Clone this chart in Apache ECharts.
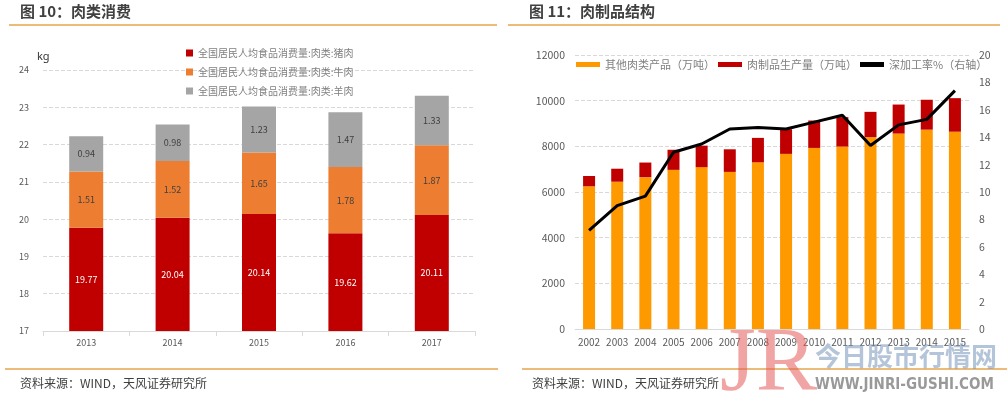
<!DOCTYPE html>
<html><head><meta charset="utf-8">
<script src="https://cdn.jsdelivr.net/npm/echarts@6/dist/echarts.min.js"></script>
<style>html,body{margin:0;padding:0;background:#fff}#c{width:1007px;height:408px}</style>
</head><body><div id="c"></div>
<script>
// Left chart: 肉类消费
const yearsL = ['2013','2014','2015','2016','2017'];
const pork = [19.77, 20.04, 20.14, 19.62, 20.11];
const beef = [1.51, 1.52, 1.65, 1.78, 1.87];
const mutton = [0.94, 0.98, 1.23, 1.47, 1.33];
const namesL = ['全国居民人均食品消费量:肉类:猪肉','全国居民人均食品消费量:肉类:牛肉','全国居民人均食品消费量:肉类:羊肉'];
// Right chart: 肉制品结构
const yearsR = ['2002','2003','2004','2005','2006','2007','2008','2009','2010','2011','2012','2013','2014','2015'];
const otherMeat = [6250, 6450, 6650, 6970, 7090, 6880, 7300, 7670, 7930, 7990, 8400, 8560, 8730, 8640];
const meatProducts = [450, 570, 640, 880, 940, 990, 1070, 1080, 1200, 1290, 1110, 1270, 1310, 1470];
const deepRate = [7.2, 9.0, 9.7, 12.9, 13.5, 14.6, 14.7, 14.6, 15.1, 15.6, 13.4, 14.9, 15.3, 17.4];
const namesR = ['其他肉类产品（万吨）','肉制品生产量（万吨）','深加工率%（右轴）'];

const chart = echarts.init(document.getElementById('c'), null, {renderer:'canvas'});
const gridC = '#d9d9d9', txt = '#595959';
const lblIn = (color) => ({show:true, position:'inside', color:color, fontSize:9, fontFamily:'Noto Sans CJK SC', formatter: p => p.value.toFixed(2)});
chart.setOption({
  animation:false,
  textStyle:{fontFamily:'Noto Sans CJK SC'},
  graphic:[
    {type:'text', left:20, top:4, style:{text:'图 10：肉类消费', fontSize:15, fontWeight:'bold', fill:'#404040', fontFamily:'Noto Sans CJK SC'}},
    {type:'text', left:529, top:4, style:{text:'图 11：肉制品结构', fontSize:15, fontWeight:'bold', fill:'#404040', fontFamily:'Noto Sans CJK SC'}},
    {type:'line', shape:{x1:9,y1:25,x2:497,y2:25}, style:{stroke:'#e6a44a', lineWidth:1.5}},
    {type:'line', shape:{x1:508,y1:25,x2:1000,y2:25}, style:{stroke:'#e6a44a', lineWidth:1.5}},
    {type:'line', shape:{x1:5,y1:369,x2:498,y2:369}, style:{stroke:'#e6a44a', lineWidth:1.5}},
    {type:'line', shape:{x1:522,y1:369,x2:1007,y2:369}, style:{stroke:'#e6a44a', lineWidth:1.5}},
    {type:'text', left:20, top:377, style:{text:'资料来源：WIND，天风证券研究所', fontSize:12, fill:'#404040', fontFamily:'Noto Sans CJK SC'}},
    {type:'text', left:532, top:377, style:{text:'资料来源：WIND，天风证券研究所', fontSize:12, fill:'#404040', fontFamily:'Noto Sans CJK SC'}},
    {type:'text', left:37, top:51, style:{text:'kg', fontSize:11, fill:'#333', fontFamily:'Noto Sans'}},
    {type:'text', left:720, top:320, z:100, style:{text:'JR', fontSize:92, fill:'rgba(230,90,90,0.55)', fontFamily:'Liberation Serif'}},
    {type:'text', left:815, top:343, z:100, style:{text:'今日股市行情网', fontSize:26, fontWeight:'bold', fill:'rgba(120,150,185,0.55)', fontFamily:'Noto Sans CJK SC'}},
    {type:'text', left:815, top:378, z:100, style:{text:'WWW.JINRI-GUSHI.COM', fontSize:15, fontWeight:'bold', fill:'rgba(110,110,110,0.7)', fontFamily:'DejaVu Sans Condensed'}}
  ],
  legend:[
    {data:namesL, orient:'vertical', left:181, top:43, itemWidth:7, itemHeight:7, itemGap:9, icon:'rect',
     textStyle:{fontSize:10, color:'#7f7f7f'}},
    {data:[{name:namesR[0], icon:'rect'},{name:namesR[1], icon:'rect'},{name:namesR[2], icon:'rect', itemStyle:{color:'#000'}}],
     left:571, top:54, itemWidth:24, itemHeight:5, itemGap:3,
     textStyle:{fontSize:11, color:'#7f7f7f'}}
  ],
  grid:[
    {left:43, top:70, width:432, height:261},
    {left:575, top:55, width:394, height:274}
  ],
  xAxis:[
    {type:'category', gridIndex:0, data:yearsL, axisLine:{lineStyle:{color:gridC}}, axisTick:{show:true, lineStyle:{color:gridC}},
     axisLabel:{fontSize:9, color:txt, margin:7}},
    {type:'category', gridIndex:1, data:yearsR, axisLine:{lineStyle:{color:gridC}}, axisTick:{show:false},
     axisLabel:{fontSize:10, color:txt, margin:8, interval:0}}
  ],
  yAxis:[
    {type:'value', gridIndex:0, min:17, max:24, interval:1, axisLabel:{fontSize:9, color:txt, margin:14},
     splitLine:{lineStyle:{type:'dashed', color:gridC}}},
    {type:'value', gridIndex:1, min:0, max:12000, interval:2000, axisLabel:{fontSize:10.5, color:txt, margin:10, formatter: v => String(v)},
     splitLine:{lineStyle:{type:'dashed', color:gridC}}},
    {type:'value', gridIndex:1, position:'right', min:0, max:20, interval:2, axisLabel:{fontSize:10.5, color:txt, margin:10},
     splitLine:{show:false}}
  ],
  series:[
    {name:namesL[0], type:'bar', stack:'L', xAxisIndex:0, yAxisIndex:0, data:pork, barWidth:34, itemStyle:{color:'#c00000'}, label:lblIn('#ffffff')},
    {name:namesL[1], type:'bar', stack:'L', xAxisIndex:0, yAxisIndex:0, data:beef, barWidth:34, itemStyle:{color:'#ed7d31'}, label:lblIn('#404040')},
    {name:namesL[2], type:'bar', stack:'L', xAxisIndex:0, yAxisIndex:0, data:mutton, barWidth:34, itemStyle:{color:'#a5a5a5'}, label:lblIn('#404040')},
    {name:namesR[0], type:'bar', stack:'R', xAxisIndex:1, yAxisIndex:1, data:otherMeat, barWidth:12, itemStyle:{color:'#ff9900'}},
    {name:namesR[1], type:'bar', stack:'R', xAxisIndex:1, yAxisIndex:1, data:meatProducts, barWidth:12, itemStyle:{color:'#c00000'}},
    {name:namesR[2], type:'line', xAxisIndex:1, yAxisIndex:2, data:deepRate, symbol:'none', lineStyle:{color:'#000', width:3}, itemStyle:{color:'#000'}, z:5}
  ]
});
</script></body></html>
